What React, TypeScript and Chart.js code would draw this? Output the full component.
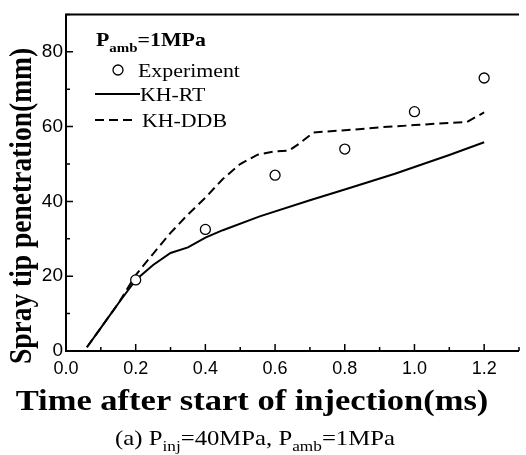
import React, { useEffect, useRef } from "react";
import { Chart, registerables } from "chart.js";

Chart.register(...registerables);

// ---- data ----
const expTime = [0.2, 0.4, 0.6, 0.8, 1.0, 1.2];
const expValues = [19, 32.5, 47, 54, 64, 73];

const rtTime = [0.06, 0.1, 0.15, 0.2, 0.25, 0.3, 0.35, 0.4, 0.45, 0.556, 0.7, 0.8, 0.944, 1.0, 1.1, 1.2];
const rtValues = [1, 6.2, 12.7, 19, 23, 26.2, 27.7, 30.3, 32.3, 36, 40.3, 43.2, 47.4, 49.2, 52.4, 55.8];

const ddbTime = [0.06, 0.1, 0.15, 0.2, 0.25, 0.3, 0.35, 0.4, 0.45, 0.5, 0.55, 0.6, 0.64, 0.67, 0.71, 0.75, 0.8, 0.9, 1.0, 1.1, 1.15, 1.2];
const ddbValues = [1, 6.2, 12.7, 20.3, 26, 31.6, 36.5, 41, 46, 50, 52.5, 53.4, 53.6, 55.5, 58.4, 58.7, 59, 59.8, 60.4, 61, 61.2, 63.8];

const xTickValues = [0, 0.2, 0.4, 0.6, 0.8, 1.0, 1.2];
const yTickValues = [0, 20, 40, 60, 80];

const xTitle = "Time after start of injection(ms)";
const yTitle = "Spray tip penetration(mm)";

const SERIF = '"Liberation Serif", "Times New Roman", serif';
const SANS = '"Liberation Sans", Arial, sans-serif';
const SX = 1.15;

type Seg = { t: string; sub?: boolean };

function segWidth(ctx: CanvasRenderingContext2D, segs: Seg[], size: number, weight: string) {
  let w = 0;
  for (const s of segs) {
    ctx.font = `${weight} ${s.sub ? Math.round(size * 0.68) : size}px ${SERIF}`;
    w += ctx.measureText(s.t).width;
  }
  return w;
}

function drawSegs(
  ctx: CanvasRenderingContext2D,
  segs: Seg[],
  x: number,
  y: number,
  size: number,
  weight: string,
  align: "left" | "center"
) {
  ctx.save();
  ctx.translate(x, y);
  ctx.scale(SX, 1);
  const w = segWidth(ctx, segs, size, weight);
  let cx = align === "center" ? -w / 2 : 0;
  ctx.textAlign = "left";
  ctx.textBaseline = "alphabetic";
  for (const s of segs) {
    const fs = s.sub ? Math.round(size * 0.68) : size;
    ctx.font = `${weight} ${fs}px ${SERIF}`;
    ctx.fillText(s.t, cx, s.sub ? size * 0.3 : 0);
    cx += ctx.measureText(s.t).width;
  }
  ctx.restore();
}

const decor = {
  id: "decor",
  afterDraw(chart: any) {
    const { ctx, chartArea: a, scales } = chart;
    const xs = scales.x;
    const ys = scales.y;
    ctx.save();
    ctx.strokeStyle = "#000";
    ctx.fillStyle = "#000";
    ctx.lineWidth = 2;
    ctx.beginPath();
    ctx.moveTo(a.right, a.top);
    ctx.lineTo(a.left, a.top);
    ctx.lineTo(a.left, a.bottom);
    ctx.lineTo(a.right, a.bottom);
    ctx.stroke();

    ctx.lineWidth = 1.5;
    ctx.beginPath();
    for (const t of xs.ticks) {
      const px = xs.getPixelForValue(t.value);
      const major = Math.round(t.value * 10) % 2 === 0;
      ctx.moveTo(px, a.bottom);
      ctx.lineTo(px, a.bottom - (major ? 7 : 4));
    }
    for (const t of ys.ticks) {
      const py = ys.getPixelForValue(t.value);
      const major = Math.round(t.value) % 20 === 0;
      ctx.moveTo(a.left, py);
      ctx.lineTo(a.left + (major ? 7 : 4), py);
    }
    ctx.stroke();

    // axis titles
    drawSegs(ctx, [{ t: xTitle }], 252, 410, 30, "bold", "center");
    ctx.save();
    ctx.translate(31, 206);
    ctx.scale(SX, 1);
    ctx.rotate(-Math.PI / 2);
    ctx.font = `bold 27.5px ${SERIF}`;
    ctx.textAlign = "center";
    ctx.textBaseline = "alphabetic";
    ctx.fillText(yTitle, 0, 0);
    ctx.restore();

    // caption
    drawSegs(
      ctx,
      [{ t: "(a) P" }, { t: "inj", sub: true }, { t: "=40MPa, P" }, { t: "amb", sub: true }, { t: "=1MPa" }],
      255,
      445,
      21.5,
      "normal",
      "center"
    );

    // legend
    drawSegs(ctx, [{ t: "P" }, { t: "amb", sub: true }, { t: "=1MPa" }], 96, 46, 19, "bold", "left");
    ctx.lineWidth = 1.3;
    ctx.beginPath();
    ctx.arc(118, 70, 5, 0, Math.PI * 2);
    ctx.stroke();
    drawSegs(ctx, [{ t: "Experiment" }], 138, 77, 19, "normal", "left");
    ctx.lineWidth = 2;
    ctx.beginPath();
    ctx.moveTo(95, 94);
    ctx.lineTo(140, 94);
    ctx.stroke();
    drawSegs(ctx, [{ t: "KH-RT" }], 140, 101, 19, "normal", "left");
    ctx.setLineDash([9, 5]);
    ctx.beginPath();
    ctx.moveTo(95, 120);
    ctx.lineTo(135, 120);
    ctx.stroke();
    ctx.setLineDash([]);
    drawSegs(ctx, [{ t: "KH-DDB" }], 142, 127, 19, "normal", "left");
    ctx.restore();
  },
};

export default function App() {
  const ref = useRef<HTMLCanvasElement>(null);
  useEffect(() => {
    if (!ref.current) return;
    const chart = new Chart(ref.current, {
      type: "scatter",
      data: {
        datasets: [
          {
            label: "Experiment",
            data: expTime.map((t, i) => ({ x: t, y: expValues[i] })),
            pointStyle: "circle",
            pointRadius: 5,
            pointBorderWidth: 1.3,
            pointBackgroundColor: "#fff",
            pointBorderColor: "#000",
            showLine: false,
            order: 0,
          },
          {
            label: "KH-RT",
            data: rtTime.map((t, i) => ({ x: t, y: rtValues[i] })),
            showLine: true,
            borderColor: "#000",
            borderWidth: 2,
            pointRadius: 0,
            order: 1,
          },
          {
            label: "KH-DDB",
            data: ddbTime.map((t, i) => ({ x: t, y: ddbValues[i] })),
            showLine: true,
            borderColor: "#000",
            borderWidth: 2,
            borderDash: [9, 5],
            pointRadius: 0,
            order: 2,
          },
        ],
      },
      options: {
        animation: false,
        responsive: false,
        layout: { padding: { top: 6, right: 0, left: 0, bottom: 0 } },
        plugins: { legend: { display: false }, tooltip: { enabled: false } },
        scales: {
          x: {
            type: "linear",
            min: 0,
            max: 1.3,
            grid: { display: false, drawTicks: false },
            border: { display: false },
            afterFit: (s: any) => {
              s.height = 104;
            },
            ticks: {
              stepSize: 0.1,
              autoSkip: false,
              maxRotation: 0,
              padding: 7,
              color: "#000",
              font: { family: SANS, size: 18 },
              callback: (v: any) => {
                const n = Math.round(Number(v) * 10) / 10;
                return xTickValues.some((k) => Math.abs(k - n) < 1e-6) ? n.toFixed(1) : "";
              },
            },
          },
          y: {
            type: "linear",
            min: 0,
            max: 90,
            grid: { display: false, drawTicks: false },
            border: { display: false },
            afterFit: (s: any) => {
              s.width = 66;
            },
            ticks: {
              stepSize: 10,
              autoSkip: false,
              padding: 3,
              color: "#000",
              font: { family: SANS, size: 19 },
              callback: (v: any) => {
                const n = Math.round(Number(v));
                return yTickValues.includes(n) ? String(n) : "";
              },
            },
          },
        },
      },
      plugins: [decor],
    });
    return () => chart.destroy();
  }, []);
  return (
    <div style={{ position: "absolute", left: 0, top: 0, width: 526, height: 455, background: "#fff" }}>
      <canvas ref={ref} width={526} height={455} style={{ display: "block", width: 526, height: 455 }} />
    </div>
  );
}
